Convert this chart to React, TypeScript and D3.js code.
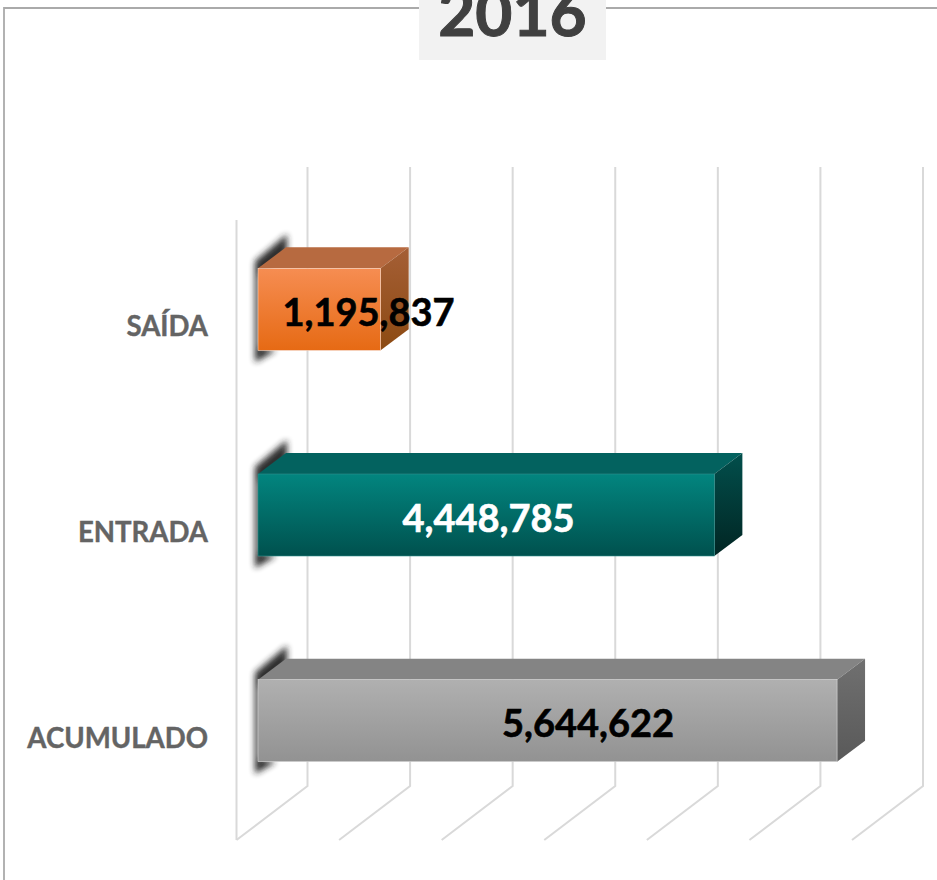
import React from "react";
import * as d3 from "d3";

const categories = ["SAÍDA", "ENTRADA", "ACUMULADO"];
const values = [1195837, 4448785, 5644622];
const valueLabels = ["1,195,837", "4,448,785", "5,644,622"];
const labelColors = ["#000000", "#ffffff", "#000000"];
const axisTicks = [0, 1000000, 2000000, 3000000, 4000000, 5000000, 6000000];
const title = "2016";

const palettes = [
  { id: "o", front: ["#f68d52", "#e66a14"], top: "#b76a40", side: ["#a55f36", "#8c4a12"], edge: "#f5d5c2" },
  { id: "t", front: ["#02857f", "#00514e"], top: "#03625f", side: ["#024f4c", "#012523"], edge: "#2f8f8c" },
  { id: "g", front: ["#b0b0b0", "#929292"], top: "#848484", side: ["#707070", "#595959"], edge: "#d8d8d8" },
];

const FONT = "Lato, Carlito, Calibri, sans-serif";

export default function App() {
  const xBack = d3.scaleLinear().domain([0, 6000000]).range([307.5, 923]);
  const xFront = d3.scaleLinear().domain([0, 6000000]).range([236.5, 852]);
  const xBar = d3.scaleLinear().domain([0, 6000000]).range([258, 873.5]);
  const yBand = d3.scaleBand().domain(categories).range([206.5, 823.5]).paddingInner(0).paddingOuter(0);
  const barH = 82;
  const depthX = 28;
  const depthY = 21;
  const yTop = (c: string) => yBand(c)! + yBand.bandwidth() / 2 - barH / 2;

  return (
    <svg
      width={937}
      height={880}
      style={{ position: "absolute", left: 0, top: 0, display: "block" }}
      viewBox="0 0 937 880"
    >
      <defs>
        {palettes.map((p) => (
          <React.Fragment key={p.id}>
            <linearGradient id={`front-${p.id}`} x1="0" x2="0" y1="0" y2="1">
              <stop offset="0" stopColor={p.front[0]} />
              <stop offset="1" stopColor={p.front[1]} />
            </linearGradient>
            <linearGradient id={`side-${p.id}`} x1="0" x2="0" y1="0" y2="1">
              <stop offset="0" stopColor={p.side[0]} />
              <stop offset="1" stopColor={p.side[1]} />
            </linearGradient>
          </React.Fragment>
        ))}
        <filter id="blur" x="-100%" y="-30%" width="300%" height="160%">
          <feGaussianBlur stdDeviation="3" />
        </filter>
      </defs>

      <rect x={0} y={0} width={937} height={880} fill="#ffffff" />
      <path d="M4 880V8H937" fill="none" stroke="#aaaaaa" strokeWidth={1.8} />

      <g fill="none" stroke="#d9d9d9" strokeWidth={2}>
        <line x1={xFront(0)} x2={xFront(0)} y1={220} y2={840} />
        {axisTicks.map((t) => (
          <path key={t} d={`M${xBack(t)} 167V786L${xFront(t)} 840`} />
        ))}
      </g>

      {categories.map((c, i) => {
        const p = palettes[i];
        const x0 = xBar(0);
        const x1 = xBar(values[i]);
        const y0 = yTop(c);
        const y1 = y0 + barH;
        return (
          <g key={c}>
            <path
              d={`M255 ${y0 - 7}L${x0 + depthX + 1} ${y0 - depthY - 13}V${y0 - depthY + 6}L${x0 + 2} ${y0 + 8}V${y1 - 3}L${x0 + 18} ${y1}L255 ${y1 + 12}Z`}
              fill="#222222"
              opacity={0.95}
              filter="url(#blur)"
            />
            <path
              d={`M${x0} ${y0}L${x0 + depthX} ${y0 - depthY}H${x1 + depthX}L${x1} ${y0}Z`}
              fill={p.top}
            />
            <path
              d={`M${x1} ${y0}L${x1 + depthX} ${y0 - depthY}V${y1 - depthY}L${x1} ${y1}Z`}
              fill={`url(#side-${p.id})`}
            />
            <rect
              x={x0}
              y={y0}
              width={x1 - x0}
              height={barH}
              fill={`url(#front-${p.id})`}
              stroke={p.edge}
              strokeWidth={0.6}
            />
          </g>
        );
      })}

      {categories.map((c) => (
        <text
          key={c}
          x={208}
          y={yTop(c) + 68}
          textAnchor="end"
          fontFamily={FONT}
          fontWeight={700}
          fontSize={27.6}
          fill="#646464"
          stroke="#646464"
          strokeWidth={0.4}
        >
          {c}
        </text>
      ))}

      {categories.map((c, i) => {
        const center = [368.5, 488.5, 588][i];
        return (
          <text
            key={c}
            x={center}
            y={yTop(c) + 57.5}
            textAnchor="middle"
            fontFamily={FONT}
            fontWeight={700}
            fontSize={38}
            fill={labelColors[i]}
            stroke={labelColors[i]}
            strokeWidth={0.6}
          >
            {valueLabels[i]}
          </text>
        );
      })}

      <rect x={419} y={0} width={187} height={60} fill="#f2f2f2" />
      <text
        x={512.5}
        y={36}
        textAnchor="middle"
        fontFamily={FONT}
        fontWeight={700}
        fontSize={64}
        fill="#404040"
        stroke="#404040"
        strokeWidth={1}
      >
        {title}
      </text>
    </svg>
  );
}
